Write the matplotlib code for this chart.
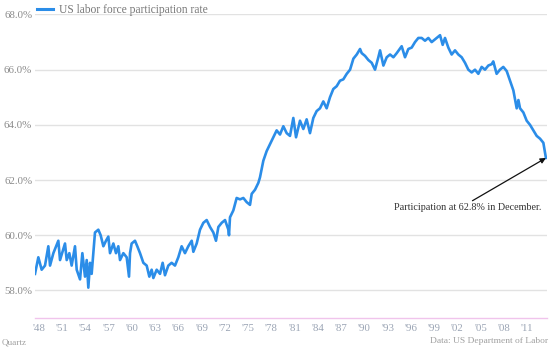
import matplotlib
matplotlib.use("Agg")
import matplotlib.pyplot as plt

# US civilian labor force participation rate (%), by decimal year
year = [
    1948.00, 1948.43, 1948.86, 1949.29, 1949.72, 1949.94, 1950.37, 1950.58, 1951.01, 1951.23,
    1951.66, 1951.87, 1952.09, 1952.43, 1952.73, 1953.16, 1953.38, 1953.81, 1954.11, 1954.45,
    1954.67, 1954.88, 1955.10, 1955.31, 1955.74, 1956.17, 1956.47, 1956.82, 1957.16, 1957.46,
    1957.68, 1958.11, 1958.45, 1958.75, 1958.97, 1959.40, 1959.83, 1960.13, 1960.26, 1960.47,
    1960.90, 1961.20, 1961.55, 1961.98, 1962.41, 1962.75, 1963.05, 1963.27, 1963.70, 1964.13,
    1964.47, 1964.77, 1965.20, 1965.63, 1966.06, 1966.49, 1966.92, 1967.35, 1967.78, 1968.22,
    1968.43, 1968.86, 1969.29, 1969.72, 1970.15, 1970.58, 1971.01, 1971.35, 1971.66, 1972.09,
    1972.52, 1972.95, 1973.03, 1973.16, 1973.59, 1974.02, 1974.45, 1974.88, 1975.31, 1975.74,
    1975.96, 1976.39, 1976.82, 1977.03, 1977.46, 1977.89, 1978.32, 1978.75, 1979.18, 1979.61,
    1980.04, 1980.47, 1980.90, 1981.33, 1981.68, 1982.19, 1982.62, 1983.05, 1983.48, 1983.91,
    1984.34, 1984.77, 1985.20, 1985.63, 1986.06, 1986.49, 1986.92, 1987.35, 1987.78, 1988.22,
    1988.65, 1989.08, 1989.51, 1989.94, 1990.15, 1990.58, 1991.01, 1991.44, 1991.87, 1992.30,
    1992.52, 1992.95, 1993.38, 1993.81, 1994.24, 1994.67, 1995.31, 1995.74, 1996.17, 1996.60,
    1997.03, 1997.46, 1997.89, 1998.32, 1998.75, 1999.18, 1999.61, 2000.26, 2000.60, 2000.90,
    2001.33, 2001.76, 2002.19, 2002.62, 2003.05, 2003.48, 2003.91, 2004.34, 2004.77, 2005.20,
    2005.63, 2006.06, 2006.49, 2006.92, 2007.13, 2007.56, 2007.99, 2008.42, 2008.86, 2009.29,
    2009.72, 2010.15, 2010.37, 2010.58, 2011.01, 2011.44, 2011.87, 2012.30, 2012.73, 2013.16,
    2013.59, 2013.92,
]
rate = [
    58.60, 59.20, 58.75, 58.90, 59.60, 58.90, 59.35, 59.50, 59.80, 59.10,
    59.50, 59.70, 59.10, 59.35, 58.90, 59.60, 58.75, 58.40, 59.35, 58.50,
    59.10, 58.10, 59.00, 58.60, 60.10, 60.20, 60.00, 59.60, 59.80, 59.95,
    59.35, 59.70, 59.35, 59.60, 59.10, 59.35, 59.20, 58.50, 59.35, 59.70,
    59.80, 59.60, 59.35, 59.00, 58.90, 58.50, 58.75, 58.45, 58.75, 58.60,
    59.00, 58.55, 58.90, 59.00, 58.90, 59.20, 59.60, 59.35, 59.60, 59.80,
    59.40, 59.70, 60.20, 60.45, 60.55, 60.30, 60.10, 59.80, 60.30, 60.45,
    60.55, 60.20, 60.00, 60.65, 60.90, 61.35, 61.30, 61.35, 61.20, 61.10,
    61.50, 61.65, 61.90, 62.10, 62.70, 63.05, 63.30, 63.55, 63.80, 63.65,
    63.95, 63.70, 63.60, 64.25, 63.55, 64.15, 63.85, 64.20, 63.70, 64.25,
    64.50, 64.60, 64.85, 64.60, 65.00, 65.30, 65.40, 65.60, 65.65, 65.85,
    66.00, 66.40, 66.55, 66.75, 66.60, 66.50, 66.35, 66.25, 66.00, 66.45,
    66.70, 66.15, 66.45, 66.55, 66.45, 66.60, 66.85, 66.45, 66.75, 66.80,
    67.00, 67.15, 67.15, 67.05, 67.15, 67.00, 67.10, 67.25, 66.90, 67.15,
    66.80, 66.55, 66.70, 66.55, 66.45, 66.25, 66.00, 65.90, 66.00, 65.85,
    66.10, 66.00, 66.15, 66.20, 66.30, 65.85, 66.00, 66.10, 65.95, 65.60,
    65.25, 64.60, 64.90, 64.60, 64.45, 64.15, 64.00, 63.80, 63.60, 63.50,
    63.35, 62.80,
]

tick_years = list(range(1948, 2012, 3))
tick_labels = ["'%02d" % (y % 100) for y in tick_years]
y_ticks = [58, 60, 62, 64, 66, 68]
y_labels = ["%.1f%%" % v for v in y_ticks]

series_name = "US labor force participation rate"
note = "Participation at 62.8% in December."

W, H = 550, 349
fig = plt.figure(figsize=(W / 100, H / 100), dpi=100)
serif = ["Liberation Serif", "DejaVu Serif"]

left, right, top, bottom = 35, 547, 14.5, 318
ax = fig.add_axes([left / W, 1 - bottom / H, (right - left) / W, (bottom - top) / H])

blue = "#2b8de8"
ax.plot(year, rate, color=blue, lw=1.9, solid_joinstyle="round", zorder=3)

ax.set_xlim(1948.0, 2014.06)
ax.set_ylim(57.0, 68.0)

ax.set_yticks(y_ticks)
ax.set_yticklabels(y_labels, family=serif, fontsize=7.8, color="#8a8a8a")
ax.set_xticks([y + 0.5 for y in tick_years])
ax.set_xticklabels(tick_labels, family=serif, fontsize=7.8, color="#9aa4b4")
ax.tick_params(axis="both", length=0)
ax.tick_params(axis="y", pad=2)
ax.tick_params(axis="x", pad=4)

ax.grid(axis="y", color="#e2e2e2", lw=1.0, zorder=0)
ax.grid(axis="x", visible=False)
for s in ("top", "right", "left"):
    ax.spines[s].set_visible(False)
ax.spines["bottom"].set_color("#f0c4ec")
ax.spines["bottom"].set_linewidth(1.0)

# legend entry drawn at the top
fig.add_artist(plt.Line2D([37 / W, 53 / W], [1 - 8.5 / H, 1 - 8.5 / H], color=blue, lw=2.2))
fig.text(59 / W, 1 - 9.5 / H, series_name, family=serif, fontsize=8.3,
         color="#777777", va="center", ha="left")

# annotation on the last value
ax.annotate(note, xy=(year[-1], rate[-1]), xytext=(394 / W, 1 - 208 / H),
            textcoords="figure fraction", family=serif, fontsize=7.3, color="#333333",
            va="center", ha="left",
            arrowprops=dict(arrowstyle="-|>", color="#111111", lw=0.9,
                            mutation_scale=8, shrinkA=0, shrinkB=0,
                            relpos=(0.5, 1.0)))

fig.text(2 / W, 1 - 342 / H, "Quartz", family=serif, fontsize=6.6, color="#a0a0a0",
         va="center", ha="left")
fig.text(548 / W, 1 - 341 / H, "Data: US Department of Labor", family=serif, fontsize=6.8,
         color="#a0a0a0", va="center", ha="right")

fig.savefig("out.png", dpi=100)
